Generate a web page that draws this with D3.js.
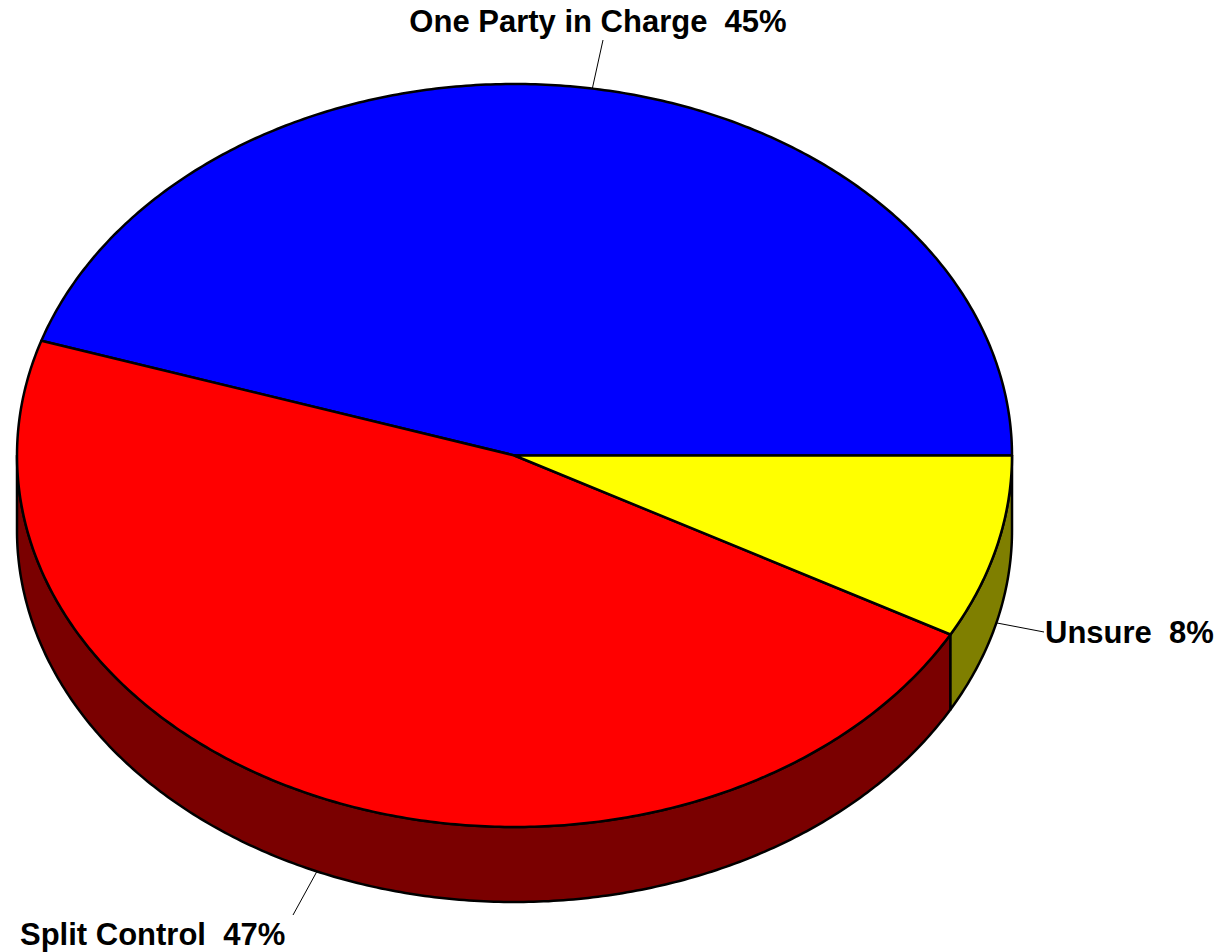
<!DOCTYPE html>
<html>
<head>
<meta charset="utf-8">
<script src="https://cdn.jsdelivr.net/npm/d3@7"></script>
<style>
	body { margin: 0; background: #fff; }
	text { font-family: Arial, "Liberation Sans", sans-serif; font-weight: bold; font-size: 31px; white-space: pre; }
</style>
</head>
<body>
<div id="chart"></div>
<script>
var width = 1222;
var height = 952;

// data
var labels = ["One Party in Charge", "Split Control", "Unsure"];
var values = [45, 47, 8];
var topColors = ["#0000ff", "#ff0000", "#ffff00"];
var sideColors = ["#00007f", "#7a0000", "#7f7f00"];

// ellipse geometry
var cx = 514.5, cy = 455.5;
var rx = 497.5, ry = 371.5;
var depth = 75;

// where the labels go (x, baseline, anchor, leader end)
var labelPos = [
	{ x: 598, y: 32, anchor: "middle", lx: 603, ly: 40 },
	{ x: 20, y: 945, anchor: "start", lx: 293, ly: 915 },
	{ x: 1045, y: 643, anchor: "start", lx: 1044, ly: 632 }
];

var data = labels.map(function (l, i) {
	return { label: l, value: values[i], i: i };
});

// start at 3 o'clock and go counterclockwise
var pie = d3.pie()
	.sort(null)
	.value(function (d) { return d.value; })
	.startAngle(Math.PI / 2)
	.endAngle(Math.PI / 2 - 2 * Math.PI);

var arcs = pie(data);

function pt(a, dy) {
	return [cx + rx * Math.sin(a), cy - ry * Math.cos(a) + (dy || 0)];
}

function arcPoints(a0, a1, dy) {
	var n = Math.max(2, Math.ceil(Math.abs(a1 - a0) / 0.01));
	var pts = [];
	for (var k = 0; k <= n; ++k) {
		pts.push(pt(a0 + (a1 - a0) * k / n, dy));
	}
	return pts;
}

var line = d3.line();

var svg = d3.select("#chart")
	.append("svg")
	.attr("width", width)
	.attr("height", height);

// side walls: only the part facing us (cos a < 0)
var frontA = -Math.PI / 2, frontB = -3 * Math.PI / 2;
arcs.forEach(function (d) {
	var hi = Math.max(d.startAngle, d.endAngle);
	var lo = Math.min(d.startAngle, d.endAngle);
	var s = Math.min(hi, frontA), e = Math.max(lo, frontB);
	if (s <= e) return;
	var top = arcPoints(s, e, 0);
	var bottom = arcPoints(e, s, depth);
	svg.append("path")
		.attr("d", line(top.concat(bottom)) + "Z")
		.attr("fill", sideColors[d.data.i])
		.attr("stroke", "#000")
		.attr("stroke-width", 2.5)
		.attr("stroke-linejoin", "round");
});

// top faces
svg.selectAll("path.top")
	.data(arcs)
	.enter()
	.append("path")
	.attr("class", "top")
	.attr("d", function (d) {
		var pts = [[cx, cy]].concat(arcPoints(d.startAngle, d.endAngle, 0));
		return line(pts) + "Z";
	})
	.attr("fill", function (d) { return topColors[d.data.i]; })
	.attr("stroke", "#000")
	.attr("stroke-width", 2.5)
	.attr("stroke-linejoin", "round");

// leader lines and labels
arcs.forEach(function (d) {
	var mid = (d.startAngle + d.endAngle) / 2;
	var front = Math.cos(mid) < 0;
	var p = pt(mid, front ? depth : 0);
	var lp = labelPos[d.data.i];
	svg.append("line")
		.attr("x1", p[0]).attr("y1", p[1])
		.attr("x2", lp.lx).attr("y2", lp.ly)
		.attr("stroke", "#000")
		.attr("stroke-width", 1);
	svg.append("text")
		.attr("x", lp.x)
		.attr("y", lp.y)
		.attr("text-anchor", lp.anchor)
		.text(d.data.label + "  " + d.data.value + "%");
});
</script>
</body>
</html>
